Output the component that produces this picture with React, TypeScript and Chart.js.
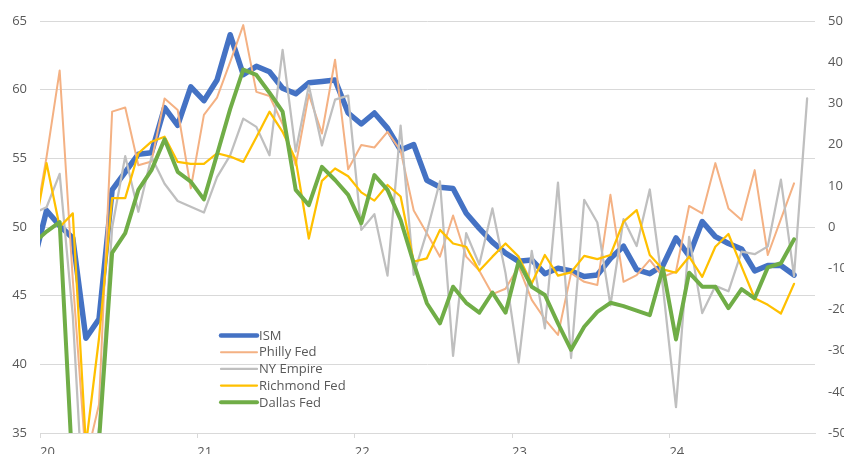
import { useEffect, useRef } from "react";
import { Chart, registerables } from "chart.js";

Chart.register(...registerables);

// Monthly observations, Dec 2019 .. Nov 2024
const months = [
  "2019-12",
  "2020-01", "2020-02", "2020-03", "2020-04", "2020-05", "2020-06", "2020-07", "2020-08", "2020-09", "2020-10", "2020-11", "2020-12",
  "2021-01", "2021-02", "2021-03", "2021-04", "2021-05", "2021-06", "2021-07", "2021-08", "2021-09", "2021-10", "2021-11", "2021-12",
  "2022-01", "2022-02", "2022-03", "2022-04", "2022-05", "2022-06", "2022-07", "2022-08", "2022-09", "2022-10", "2022-11", "2022-12",
  "2023-01", "2023-02", "2023-03", "2023-04", "2023-05", "2023-06", "2023-07", "2023-08", "2023-09", "2023-10", "2023-11", "2023-12",
  "2024-01", "2024-02", "2024-03", "2024-04", "2024-05", "2024-06", "2024-07", "2024-08", "2024-09", "2024-10", "2024-11",
];

// ISM (left axis)
const ism = [
  47.4,
  51.2, 50.1, 49.2, 41.9, 43.3, 52.7, 54.0, 55.3, 55.4, 58.7, 57.4, 60.2,
  59.2, 60.7, 64.0, 61.1, 61.7, 61.3, 60.1, 59.7, 60.5, 60.6, 60.7, 58.3,
  57.5, 58.3, 57.2, 55.6, 56.0, 53.4, 52.9, 52.8, 51.0, 49.9, 48.9, 48.1,
  47.5, 47.6, 46.6, 47.0, 46.8, 46.4, 46.5, 47.7, 48.6, 46.9, 46.6, 47.2,
  49.2, 47.9, 50.4, 49.3, 48.8, 48.4, 46.8, 47.2, 47.2, 46.5, null,
];

// Regional surveys (right axis)
const philly = [
  -1.4,
  17.0, 38.0, -12.7, -56.6, -43.1, 28.0, 29.0, 15.0, 15.9, 31.2, 28.4, 9.4,
  27.2, 31.4, 40.0, 49.0, 32.8, 31.8, 25.0, 15.0, 32.2, 22.7, 40.6, 14.0,
  19.9, 19.3, 23.1, 18.5, 4.0, -1.5, -7.2, 2.8, -7.2, -10.6, -16.3, -15.0,
  -9.6, -17.7, -22.4, -26.2, -11.2, -13.3, -14.1, 7.8, -13.3, -11.7, -8.0, -12.1,
  -10.8, 5.1, 3.3, 15.5, 4.5, 1.7, 13.8, -6.8, 1.9, 10.6, null,
];

const nyEmpire = [
  3.3,
  4.8, 12.9, -21.5, -78.2, -48.5, -0.2, 17.2, 3.7, 17.0, 10.5, 6.3, 4.9,
  3.5, 12.1, 17.4, 26.3, 24.3, 17.4, 43.0, 18.3, 34.3, 19.8, 30.9, 31.9,
  -0.7, 3.1, -11.8, 24.6, -11.6, -1.2, 11.1, -31.3, -1.5, -9.1, 4.5, -11.2,
  -32.9, -5.8, -24.6, 10.8, -31.8, 6.6, 1.1, -19.0, 1.9, -4.6, 9.1, -14.5,
  -43.7, -2.4, -20.9, -14.3, -15.6, -6.0, -6.6, -4.7, 11.5, -11.9, 31.2,
];

const richmond = [
  -2.3,
  15.5, 0.0, 3.3, -53.0, -27.0, 7.0, 7.0, 17.9, 20.7, 21.9, 15.8, 15.3,
  15.3, 17.9, 17.1, 15.8, 21.8, 28.0, 23.1, 16.3, -2.8, 11.2, 14.2, 12.3,
  8.4, 6.4, 10.2, 7.4, -8.4, -7.6, -0.7, -4.0, -4.8, -10.6, -7.2, -4.0,
  -7.2, -13.7, -6.8, -11.8, -11.0, -7.0, -7.8, -6.8, 1.3, 4.1, -6.8, -10.3,
  -11.1, -7.2, -12.1, -4.8, -1.7, -9.6, -17.3, -18.9, -21.0, -13.8, null,
];

const dallas = [
  -3.9,
  -1.1, 1.2, -60.0, -74.0, -52.0, -6.3, -1.5, 9.0, 13.8, 21.3, 13.4, 11.0,
  6.7, 17.6, 28.6, 38.2, 36.9, 32.6, 28.0, 9.0, 5.3, 14.6, 11.4, 7.8,
  0.9, 12.6, 9.0, 1.7, -8.8, -18.5, -23.4, -14.5, -18.4, -20.8, -15.9, -20.8,
  -8.4, -14.5, -16.5, -23.4, -29.8, -24.2, -20.6, -18.4, -19.2, -20.3, -21.4, -10.0,
  -27.3, -11.1, -14.5, -14.5, -19.7, -15.1, -17.3, -9.8, -8.8, -3.0, null,
];

const seriesNames = ["ISM", "Philly Fed", "NY Empire", "Richmond Fed", "Dallas Fed"];
const yearLabels = ["20", "21", "22", "23", "24"];
const yearStarts = ["2020-01", "2021-01", "2022-01", "2023-01", "2024-01"];
const axisStart = "2020-01";
const axisEnd = "2024-12";

const monthIndex = (m: string) => {
  const [y, mo] = m.split("-").map(Number);
  return (y - 2020) * 12 + (mo - 1);
};
// observations sit mid-month on the date axis
const toPoints = (vals: (number | null)[]) =>
  months.map((m, i) => ({ x: monthIndex(m) + 0.5, y: vals[i] }));

const TEXT = "#595959";
const GRID = "#D9D9D9";
const FONT = { family: "'Open Sans', sans-serif", size: 13 };

const legendPlugin = {
  id: "inlineLegend",
  afterDatasetsDraw(chart: any) {
    const ctx = chart.ctx;
    const x0 = 221;
    const x1 = 257;
    const y0 = 335.5;
    const dy = 16.7;
    chart.data.datasets.forEach((ds: any, i: number) => {
      const y = y0 + i * dy;
      ctx.save();
      ctx.strokeStyle = ds.borderColor;
      ctx.lineWidth = Math.min(ds.borderWidth, 4.5);
      ctx.lineCap = "round";
      ctx.beginPath();
      ctx.moveTo(x0, y);
      ctx.lineTo(x1, y);
      ctx.stroke();
      ctx.fillStyle = TEXT;
      ctx.font = "13px 'Open Sans', sans-serif";
      ctx.textBaseline = "middle";
      ctx.textAlign = "left";
      ctx.fillText(ds.label, x1 + 2, y + 0.5);
      ctx.restore();
    });
  },
};

export default function App() {
  const ref = useRef<HTMLCanvasElement>(null);

  useEffect(() => {
    const common = {
      pointRadius: 0,
      pointHoverRadius: 0,
      tension: 0,
      fill: false,
      clip: 0,
      borderJoinStyle: "round" as const,
      borderCapStyle: "round" as const,
    };
    const chart = new Chart(ref.current!, {
      type: "line",
      data: {
        datasets: [
          { ...common, label: seriesNames[0], data: toPoints(ism), borderColor: "#4472C4", borderWidth: 5.5, yAxisID: "y", order: 5 },
          { ...common, label: seriesNames[1], data: toPoints(philly), borderColor: "#F4B183", borderWidth: 2, yAxisID: "y1", order: 4 },
          { ...common, label: seriesNames[2], data: toPoints(nyEmpire), borderColor: "#BFBFBF", borderWidth: 2.25, yAxisID: "y1", order: 3 },
          { ...common, label: seriesNames[3], data: toPoints(richmond), borderColor: "#FFC000", borderWidth: 2.25, yAxisID: "y1", order: 2 },
          { ...common, label: seriesNames[4], data: toPoints(dallas), borderColor: "#70AD47", borderWidth: 4, yAxisID: "y1", order: 1 },
        ],
      },
      options: {
        animation: false,
        responsive: false,
        devicePixelRatio: 1,
        events: [],
        layout: { padding: { top: 21, left: 0, right: 0, bottom: 0 } },
        plugins: { legend: { display: false }, tooltip: { enabled: false } },
        scales: {
          x: {
            type: "linear",
            min: monthIndex(axisStart),
            max: monthIndex(axisEnd) + 0.1,
            afterBuildTicks: (s: any) => {
              s.ticks = yearStarts.map((m) => ({ value: monthIndex(m) }));
            },
            afterFit: (s: any) => {
              s.height = 21;
            },
            ticks: {
              autoSkip: false,
              maxRotation: 0,
              align: "start",
              padding: 6,
              color: TEXT,
              font: FONT,
              callback: (_v: any, i: number) => yearLabels[i],
            },
            grid: { drawOnChartArea: false, drawTicks: true, tickLength: 5, color: GRID },
            border: { display: true, color: GRID },
          },
          y: {
            position: "left",
            min: 35,
            max: 65,
            afterFit: (s: any) => {
              s.width = 40;
            },
            ticks: { stepSize: 5, padding: 13, color: TEXT, font: FONT },
            grid: { color: GRID, drawTicks: false },
            border: { display: false },
          },
          y1: {
            position: "right",
            min: -50,
            max: 50,
            afterFit: (s: any) => {
              s.width = 29;
            },
            ticks: { stepSize: 10, padding: 13, color: TEXT, font: FONT },
            grid: { display: false, drawTicks: false },
            border: { display: false },
          },
        },
      },
      plugins: [legendPlugin],
    });
    return () => chart.destroy();
  }, []);

  return (
    <div style={{ position: "absolute", left: 0, top: 0, width: 844, height: 454, background: "#fff" }}>
      <canvas ref={ref} width={844} height={454} style={{ display: "block" }} />
    </div>
  );
}
